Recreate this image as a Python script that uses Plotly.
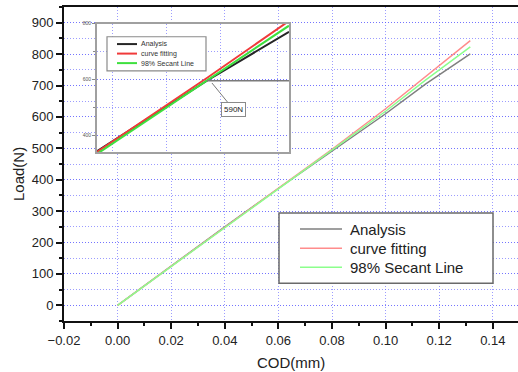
import plotly.graph_objects as go

# ---------------- data ----------------
series_names = ["Analysis", "curve fitting", "98% Secant Line"]

cod = [0.0, 0.02, 0.04, 0.06, 0.08, 0.10, 0.115, 0.1316]
load_analysis = [0, 125, 250, 372, 492, 610, 705, 801]
load_curve = [0, 124, 249, 372, 497, 626, 730, 843]
load_secant = [0, 124, 248, 371, 495, 618, 718, 823]

inset_cod = [0.055, 0.0985, 0.131]
inset_analysis = [342, 595, 771]
inset_curve = [339, 605, 810]
inset_secant = [332, 595, 793]

marker_load = 590
marker_label = "590N"

x_ticks = [-0.02, 0.0, 0.02, 0.04, 0.06, 0.08, 0.10, 0.12, 0.14]
y_ticks = [0, 100, 200, 300, 400, 500, 600, 700, 800, 900]
inset_y_ticks = [400, 600, 800]
inset_x_grid = [0.0613, 0.0827, 0.1037, 0.1266]

# ---------------- layout geometry (pixels) ----------------
W, H = 518, 372
L, R, T, B = 64, 518, 7.3, 320.7


def px(x):
    return (x - L) / (R - L)


def py(y):
    return (B - y) / (B - T)


main_colors = ["#7f7f7f", "#ff8c8c", "#8cff8c"]
inset_colors = ["#262626", "#f03a3a", "#3ee03e"]
grid_col = "rgba(90,90,255,0.6)"
grid_dash = "1px,2px"
font_fam = "Liberation Sans, Arial, sans-serif"

fig = go.Figure()
for name, ys, c in zip(series_names, [load_analysis, load_curve, load_secant], main_colors):
    fig.add_trace(go.Scatter(x=cod, y=ys, mode="lines", name=name,
                             line=dict(color=c, width=1.5), showlegend=False,
                             xaxis="x", yaxis="y"))
for name, ys, c in zip(series_names, [inset_analysis, inset_curve, inset_secant], inset_colors):
    fig.add_trace(go.Scatter(x=inset_cod, y=ys, mode="lines", name=name,
                             line=dict(color=c, width=2), showlegend=False,
                             xaxis="x2", yaxis="y2"))

shapes = []
annotations = []

# 590N horizontal line in inset
shapes.append(dict(type="line", xref="x2", yref="y2", x0=0.0985, x1=0.131,
                   y0=marker_load + 5, y1=marker_load + 5,
                   line=dict(color="#7a7a7a", width=1.5), layer="above"))
annotations.append(dict(xref="x2", yref="y2", x=0.1005, y=587, ax=0.1092, ay=490,
                        axref="x2", ayref="y2", text="", showarrow=True, arrowhead=0,
                        arrowcolor="#7a7a7a", arrowwidth=1))
annotations.append(dict(xref="x2", yref="y2", x=0.1092, y=490, text=marker_label,
                        showarrow=False, font=dict(size=8, color="#222", family=font_fam),
                        bgcolor="white", bordercolor="#8a8a8a", borderwidth=1, borderpad=2))

# main legend (manual)
shapes.append(dict(type="rect", xref="paper", yref="paper", x0=px(279), x1=px(493),
                   y0=py(283), y1=py(213), fillcolor="white",
                   line=dict(color="#6a6a6a", width=1.5), layer="above"))
for i, (name, c) in enumerate(zip(series_names, main_colors)):
    yy = 229 + 19 * i
    shapes.append(dict(type="line", xref="paper", yref="paper", x0=px(300), x1=px(342),
                       y0=py(yy), y1=py(yy), line=dict(color=c, width=1.5), layer="above"))
    annotations.append(dict(xref="paper", yref="paper", x=px(348), y=py(yy), text=name,
                            xanchor="left", yanchor="middle", showarrow=False,
                            font=dict(size=15, color="#222", family=font_fam)))

# inset legend (manual)
shapes.append(dict(type="rect", xref="paper", yref="paper", x0=px(107), x1=px(206),
                   y0=py(71), y1=py(37), fillcolor="white",
                   line=dict(color="#8a8a8a", width=1.2), layer="above"))
for i, (name, c) in enumerate(zip(series_names, inset_colors)):
    yy = 44.3 + 9.5 * i
    shapes.append(dict(type="line", xref="paper", yref="paper", x0=px(117), x1=px(137),
                       y0=py(yy), y1=py(yy), line=dict(color=c, width=2), layer="above"))
    annotations.append(dict(xref="paper", yref="paper", x=px(139), y=py(yy), text=name,
                            xanchor="left", yanchor="middle", showarrow=False,
                            font=dict(size=7, color="#333", family=font_fam)))

# axis titles
annotations.append(dict(xref="paper", yref="paper", x=px(291), y=py(362), text="COD(mm)",
                        xanchor="center", yanchor="middle",
                        showarrow=False, font=dict(size=15, color="#222", family=font_fam)))
annotations.append(dict(xref="paper", yref="paper", x=px(18), y=py(174), text="Load(N)",
                        xanchor="center", yanchor="middle",
                        textangle=-90, showarrow=False,
                        font=dict(size=15, color="#222", family=font_fam)))

fig.update_layout(
    width=W, height=H,
    margin=dict(l=L, r=W - R, t=T, b=H - B),
    paper_bgcolor="white", plot_bgcolor="white",
    showlegend=False,
    font=dict(family=font_fam, color="#222"),
    xaxis=dict(range=[-0.02, -0.02 + (R - L) / 2680], tickvals=x_ticks, tickformat=".2f",
               showgrid=True, gridcolor=grid_col, griddash=grid_dash, gridwidth=1,
               zeroline=False, showline=True, linecolor="#111", linewidth=2, mirror=True,
               ticks="outside", ticklen=6, tickwidth=1.5, tickcolor="#111",
               minor=dict(dtick=0.01, ticks="outside", ticklen=3, tickwidth=1.5,
                          tickcolor="#111", showgrid=False),
               tickfont=dict(size=13, color="#222")),
    yaxis=dict(range=[-50, 950], tickvals=y_ticks,
               showgrid=True, gridcolor=grid_col, griddash=grid_dash, gridwidth=1,
               zeroline=False, showline=True, linecolor="#111", linewidth=2, mirror=False,
               ticks="outside", ticklen=6, tickwidth=1.5, tickcolor="#111",
               minor=dict(dtick=50, tick0=0, ticks="outside", ticklen=3, tickwidth=1.5,
                          tickcolor="#111", showgrid=True, gridcolor=grid_col,
                          griddash=grid_dash, gridwidth=1),
               tickfont=dict(size=13, color="#222")),
    xaxis2=dict(domain=[px(97), px(289)], anchor="y2", range=[0.055, 0.131],
                tickvals=inset_x_grid, showticklabels=False, ticks="",
                showgrid=True, gridcolor=grid_col, griddash=grid_dash, gridwidth=1,
                zeroline=False, showline=True, linecolor="#a0a0a0", linewidth=2, mirror=True),
    yaxis2=dict(domain=[py(152), py(24)], anchor="x2", range=[339, 800],
                tickvals=inset_y_ticks, ticks="outside", ticklen=3, tickwidth=1,
                tickcolor="#888", tickfont=dict(size=5, color="#555"),
                minor=dict(dtick=100, tick0=0, ticks="outside", ticklen=2, tickcolor="#888",
                           showgrid=True, gridcolor=grid_col, griddash=grid_dash, gridwidth=1),
                showgrid=True, gridcolor=grid_col, griddash=grid_dash, gridwidth=1,
                zeroline=False, showline=True, linecolor="#a0a0a0", linewidth=2, mirror=True),
    shapes=shapes,
    annotations=annotations,
)

fig.write_html("out.html")
